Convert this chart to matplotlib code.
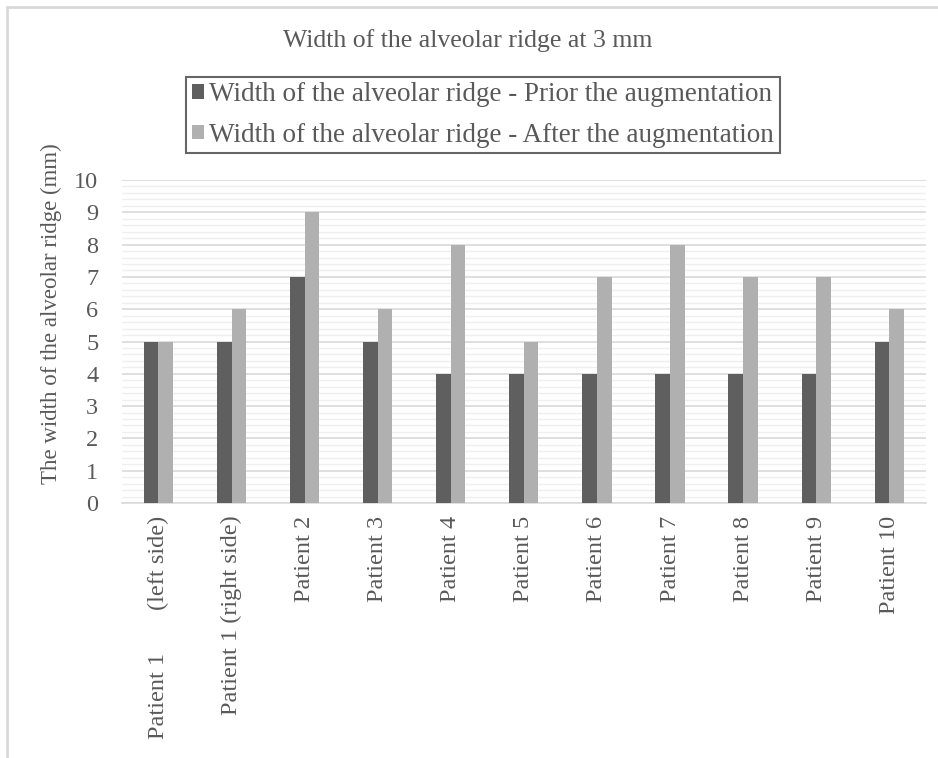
import numpy as np
import matplotlib.pyplot as plt
from matplotlib.patches import Rectangle
from matplotlib.ticker import MultipleLocator

plt.rcParams['font.family'] = ['Liberation Serif', 'DejaVu Serif']

categories = ['Patient 1       (left side)', 'Patient 1 (right side)', 'Patient 2', 'Patient 3',
              'Patient 4', 'Patient 5', 'Patient 6', 'Patient 7', 'Patient 8', 'Patient 9', 'Patient 10']
prior = [5, 5, 7, 5, 4, 4, 4, 4, 4, 4, 5]
after = [5, 6, 9, 6, 8, 5, 7, 8, 7, 7, 6]

txt = '#595959'
fig = plt.figure(figsize=(9.38, 7.58), dpi=100)
ax = fig.add_axes([0.130, 0.3364, 0.857, 0.4261])

x = np.arange(len(categories))
w = 0.2
ax.bar(x - w / 2, prior, w, color='#5f5f5f', label='Width of the alveolar ridge - Prior the augmentation', zorder=3)
ax.bar(x + w / 2, after, w, color='#b0b0b0', label='Width of the alveolar ridge - After the augmentation', zorder=3)

ax.set_xlim(-0.5, len(categories) - 0.5)
ax.set_ylim(0, 10)
ax.yaxis.set_major_locator(MultipleLocator(1))
ax.yaxis.set_minor_locator(MultipleLocator(0.2))
ax.grid(axis='y', which='major', color='#d9d9d9', linewidth=1.2, zorder=0)
ax.grid(axis='y', which='minor', color='#efefef', linewidth=1.0, zorder=0)
ax.set_axisbelow(True)
for s in ['left', 'right', 'top']:
    ax.spines[s].set_visible(False)
ax.spines['bottom'].set_color('#d9d9d9')
ax.spines['bottom'].set_linewidth(1.2)
ax.tick_params(axis='both', which='both', length=0, colors=txt, labelsize=17.5)
ax.tick_params(axis='y', pad=17)
ax.tick_params(axis='x', pad=9)
ax.set_xticks(x)
ax.set_xticklabels(categories, rotation=90, va='top')
ax.set_ylabel('The width of the alveolar ridge (mm)', fontsize=16.5, color=txt)
ax.yaxis.set_label_coords(-0.075, 0.587)

fig.text(0.499, 1 - 41 / 758, 'Width of the alveolar ridge at 3 mm', ha='center', va='center',
         fontsize=18.5, color=txt)
leg = fig.legend(loc='center', bbox_to_anchor=(483 / 938, 1 - 115 / 758), fontsize=19.5,
                 frameon=True, fancybox=False, handlelength=0.45, handleheight=0.45,
                 handletextpad=0.2, borderpad=0.2, borderaxespad=0, labelspacing=0.58,
                 labelcolor=txt)
leg.get_frame().set_edgecolor('#404040')
leg.get_frame().set_linewidth(1.5)

fig.patches.append(Rectangle((7 / 938, -0.05), 1.1, 1.05 - 7 / 758, transform=fig.transFigure,
                             fill=False, edgecolor='#d9d9d9', linewidth=2))

plt.savefig('out.png', dpi=100)
